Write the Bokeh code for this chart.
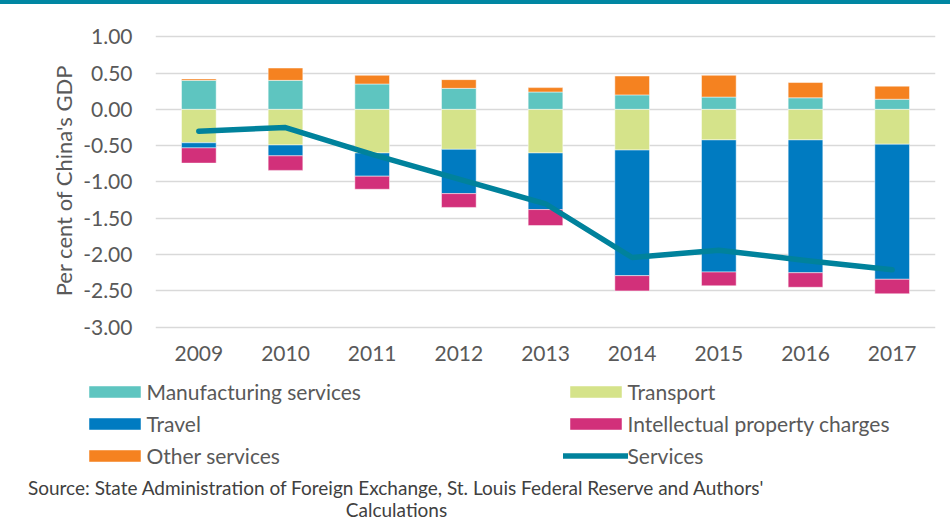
from bokeh.plotting import figure
from bokeh.models import (Range1d, FixedTicker, CustomJSTickFormatter, Legend, LegendItem,
                          Label, Div, ColumnDataSource)
from bokeh.layouts import column
from bokeh.embed import file_html
from bokeh.resources import INLINE

years = ["2009", "2010", "2011", "2012", "2013", "2014", "2015", "2016", "2017"]
manufacturing = [0.40, 0.40, 0.35, 0.29, 0.24, 0.20, 0.17, 0.16, 0.14]
other_services = [0.02, 0.17, 0.12, 0.12, 0.06, 0.26, 0.30, 0.21, 0.18]
transport = [-0.46, -0.49, -0.60, -0.55, -0.60, -0.56, -0.42, -0.42, -0.48]
travel = [-0.07, -0.15, -0.32, -0.61, -0.78, -1.73, -1.82, -1.83, -1.86]
ip_charges = [-0.21, -0.20, -0.18, -0.19, -0.22, -0.21, -0.19, -0.20, -0.20]
services = [-0.30, -0.25, -0.62, -0.96, -1.30, -2.04, -1.94, -2.08, -2.21]
y_ticks = [1.0, 0.5, 0.0, -0.5, -1.0, -1.5, -2.0, -2.5, -3.0]
series_names = ["Manufacturing services", "Transport", "Travel",
                "Intellectual property charges", "Other services", "Services"]
source_note = ["Source: State Administration of Foreign Exchange, St. Louis Federal Reserve and Authors'",
               "Calculations"]

C_MAN = "#5EC5C0"
C_TRA = "#D5E38A"
C_TRV = "#007BC1"
C_IP = "#D2307A"
C_OTH = "#F58220"
C_SRV = "#00829C"
FONT = "Lato"
TXT = "#595959"

src = ColumnDataSource(dict(year=years, manufacturing=manufacturing, other=other_services,
                            transport=transport, travel=travel, ip=ip_charges, services=services))

# ---------------- main chart ----------------
p = figure(x_range=years, y_range=Range1d(-3.0455, 1.0868), width=950, height=366,
           output_backend="svg", toolbar_location=None, frame_align=False,
           min_border_left=155, min_border_right=15, min_border_top=26, min_border_bottom=40)
p.x_range.range_padding = 0
p.outline_line_color = None
p.background_fill_color = "white"
p.border_fill_color = "white"

bar_kw = dict(x="year", width=0.40, source=src, line_color="white", line_width=0.8, line_alpha=0.6)
p.vbar_stack(["manufacturing", "other"], color=[C_MAN, C_OTH], **bar_kw)
p.vbar_stack(["transport", "travel", "ip"], color=[C_TRA, C_TRV, C_IP], **bar_kw)
p.line("year", "services", source=src, color=C_SRV, line_width=5.5,
       line_cap="round", line_join="round")

p.yaxis.ticker = FixedTicker(ticks=y_ticks)
p.yaxis.formatter = CustomJSTickFormatter(code="return tick.toFixed(2);")
for ax in (p.xaxis[0], p.yaxis[0]):
    ax.axis_line_color = None
    ax.major_tick_line_color = None
    ax.minor_tick_line_color = None
    ax.major_label_text_font = FONT
    ax.major_label_text_font_size = "21px"
    ax.major_label_text_color = TXT
p.yaxis.major_label_standoff = 17
p.xaxis.major_label_standoff = 9
p.yaxis.axis_label = "Per cent of China's GDP"
p.yaxis.axis_label_text_font = FONT
p.yaxis.axis_label_text_font_size = "22px"
p.yaxis.axis_label_text_font_style = "normal"
p.yaxis.axis_label_text_color = TXT
p.yaxis.axis_label_standoff = 3

p.xgrid.grid_line_color = None
p.ygrid.grid_line_color = "#D9D9D9"
p.ygrid.grid_line_width = 1.6

# ---------------- legend + source panel ----------------
q = figure(x_range=Range1d(0, 1), y_range=Range1d(0, 1), width=950, height=152,
           output_backend="svg", toolbar_location=None, frame_align=False,
           min_border=0, min_border_left=0, min_border_right=0,
           min_border_top=0, min_border_bottom=0)
q.axis.visible = False
q.grid.visible = False
q.outline_line_color = None
q.background_fill_color = "white"
q.border_fill_color = "white"

# legend proxies: a single NaN row each, so nothing is drawn but the legend swatches
nan = float("nan")
proxy_kw = dict(x=[nan], top=[nan], width=0.4, line_color="white", line_width=0.8, line_alpha=0.6)
r_man = q.vbar(color=C_MAN, **proxy_kw)
r_tra = q.vbar(color=C_TRA, **proxy_kw)
r_trv = q.vbar(color=C_TRV, **proxy_kw)
r_ip = q.vbar(color=C_IP, **proxy_kw)
r_oth = q.vbar(color=C_OTH, **proxy_kw)
r_srv = q.line(x=[nan], y=[nan], color=C_SRV, line_width=5.5, line_cap="round")

leg_kw = dict(orientation="vertical", glyph_width=65, glyph_height=15, label_standoff=0,
              label_height=22, spacing=7, padding=0, margin=0,
              border_line_alpha=0, background_fill_alpha=0,
              label_text_font=FONT, label_text_font_size="21px", label_text_color=TXT)
leg1 = Legend(items=[LegendItem(label=series_names[0], renderers=[r_man]),
                     LegendItem(label=series_names[2], renderers=[r_trv]),
                     LegendItem(label=series_names[4], renderers=[r_oth])],
              location=(81.5, 54), **leg_kw)
leg2 = Legend(items=[LegendItem(label=series_names[1], renderers=[r_tra]),
                     LegendItem(label=series_names[3], renderers=[r_ip]),
                     LegendItem(label=series_names[5], renderers=[r_srv])],
              location=(562.5, 54), **leg_kw)
q.add_layout(leg1)
q.add_layout(leg2)

for txt, yy in zip(source_note, [35.5, 13]):
    q.add_layout(Label(x=396, y=yy, x_units="screen", y_units="screen", text=txt,
                       text_align="center", text_baseline="middle", text_font=FONT,
                       text_font_size="19px", text_color="#404040"))

bar = Div(text="", width=950, height=4, margin=0, styles={"background-color": "#0086A2"})
layout = column(bar, p, q, spacing=0)

open("out.html", "w").write(file_html(layout, INLINE))
